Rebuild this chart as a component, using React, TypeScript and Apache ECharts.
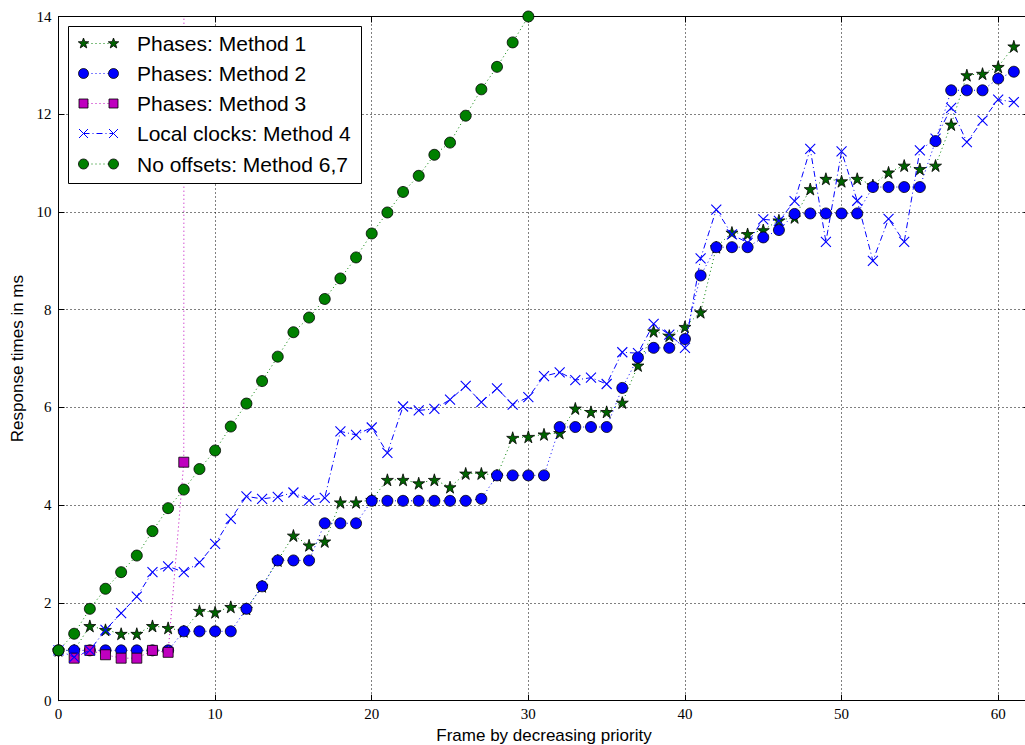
import React, { useEffect, useRef } from "react";
import * as echarts from "echarts";

const xTicks = [0, 10, 20, 30, 40, 50, 60];
const yTicks = [0, 2, 4, 6, 8, 10, 12, 14];

const method1 = [1.03, 1.03, 1.53, 1.45, 1.37, 1.37, 1.53, 1.49, 1.42, 1.84, 1.81, 1.92, 1.88, 2.34, 2.87, 3.38, 3.18, 3.26, 4.06, 4.06, 4.11, 4.52, 4.52, 4.45, 4.52, 4.37, 4.65, 4.65, 4.61, 5.38, 5.40, 5.45, 5.48, 5.98, 5.91, 5.91, 6.10, 6.86, 7.56, 7.47, 7.65, 7.95, 9.28, 9.58, 9.55, 9.63, 9.83, 9.89, 10.47, 10.68, 10.63, 10.68, 10.55, 10.81, 10.95, 10.88, 10.95, 11.79, 12.80, 12.83, 12.97, 13.39];

const method2 = [1.03, 1.03, 1.03, 1.03, 1.03, 1.03, 1.03, 1.03, 1.42, 1.42, 1.42, 1.42, 1.88, 2.34, 2.87, 2.87, 2.87, 3.63, 3.63, 3.63, 4.09, 4.09, 4.09, 4.09, 4.09, 4.09, 4.09, 4.13, 4.61, 4.61, 4.61, 4.61, 5.60, 5.60, 5.60, 5.60, 6.40, 7.02, 7.22, 7.22, 7.40, 8.70, 9.28, 9.28, 9.28, 9.48, 9.63, 9.96, 9.97, 9.97, 9.97, 9.97, 10.51, 10.51, 10.51, 10.51, 11.45, 12.49, 12.49, 12.49, 12.73, 12.87];

const method3X = [1, 2, 3, 4, 5, 6, 7, 8, 9];
const method3 = [0.87, 1.03, 0.94, 0.87, 0.87, 1.03, 0.99, 4.88, 1000];

const method4 = [1.03, 0.89, 1.03, 1.45, 1.79, 2.13, 2.63, 2.75, 2.63, 2.83, 3.21, 3.72, 4.18, 4.13, 4.17, 4.26, 4.10, 4.15, 5.51, 5.44, 5.59, 5.07, 6.02, 5.94, 5.97, 6.16, 6.44, 6.11, 6.39, 6.06, 6.21, 6.64, 6.72, 6.56, 6.61, 6.48, 7.13, 7.11, 7.71, 7.49, 7.22, 9.05, 10.05, 9.54, 9.37, 9.85, 9.82, 10.22, 11.29, 9.39, 11.24, 10.23, 9.00, 9.86, 9.39, 11.26, 11.5, 12.13, 11.43, 11.87, 12.30, 12.25];

const method67 = [1.03, 1.37, 1.88, 2.29, 2.63, 2.97, 3.47, 3.94, 4.32, 4.74, 5.12, 5.61, 6.08, 6.54, 7.04, 7.54, 7.84, 8.22, 8.64, 9.07, 9.56, 9.99, 10.41, 10.74, 11.17, 11.42, 11.97, 12.51, 12.97, 13.47, 14.0];

const seriesNames = [
  "Phases: Method 1",
  "Phases: Method 2",
  "Phases: Method 3",
  "Local clocks: Method 4",
  "No offsets: Method 6,7",
];

const STAR = "path://M50,0 L61,35 L98,35 L68,57 L79,91 L50,70 L21,91 L32,57 L2,35 L39,35 Z";
const XMARK = "path://M0,0 L10,10 M10,0 L0,10";

const GREEN = "#008000";
const DARKGREEN = "#006400";
const BLUE = "#0000ff";
const MAGENTA = "#bf00bf";

function pairs(values: number[], xs?: number[]) {
  return values.map((v, i) => [xs ? xs[i] : i, v]);
}

function starPoints(cx: number, cy: number, ro: number, ri: number) {
  const pts: number[][] = [];
  for (let k = 0; k < 10; k++) {
    const r = k % 2 === 0 ? ro : ri;
    const a = -Math.PI / 2 + (k * Math.PI) / 5;
    pts.push([cx + r * Math.cos(a), cy + r * Math.sin(a)]);
  }
  return pts;
}

function legendGraphic() {
  const boxX = 68.5, boxY = 26.5, boxW = 293, boxH = 157;
  const rowY = [43.5, 73.5, 103.5, 133.5, 164];
  const m1 = 83.5, m2 = 113.5, tx = 137;
  const els: any[] = [
    { type: "rect", shape: { x: boxX, y: boxY, width: boxW, height: boxH }, style: { fill: "#fff", stroke: "#000", lineWidth: 1 }, z: 100 },
  ];
  const lineStyles: any[] = [
    { stroke: GREEN, lineDash: [1, 3] },
    { stroke: BLUE, lineDash: [1, 3] },
    { stroke: MAGENTA, lineDash: [1, 3] },
    { stroke: BLUE, lineDash: [6, 3, 1, 3] },
    { stroke: GREEN, lineDash: [1, 3] },
  ];
  rowY.forEach((y, k) => {
    els.push({ type: "line", shape: { x1: m1, y1: y, x2: m2, y2: y }, style: { ...lineStyles[k], lineWidth: 1 }, z: 101 });
    [m1, m2].forEach((mx) => {
      if (k === 0) {
        els.push({ type: "polygon", shape: { points: starPoints(mx, y, 5.5, 2.3) }, style: { fill: DARKGREEN, stroke: "#000", lineWidth: 0.8 }, z: 102 });
      } else if (k === 1) {
        els.push({ type: "circle", shape: { cx: mx, cy: y, r: 5 }, style: { fill: BLUE, stroke: "#000", lineWidth: 0.8 }, z: 102 });
      } else if (k === 2) {
        els.push({ type: "rect", shape: { x: mx - 4.5, y: y - 4.5, width: 9, height: 9 }, style: { fill: MAGENTA, stroke: "#000", lineWidth: 0.8 }, z: 102 });
      } else if (k === 3) {
        els.push({ type: "line", shape: { x1: mx - 4.5, y1: y - 4.5, x2: mx + 4.5, y2: y + 4.5 }, style: { stroke: BLUE, lineWidth: 1 }, z: 102 });
        els.push({ type: "line", shape: { x1: mx - 4.5, y1: y + 4.5, x2: mx + 4.5, y2: y - 4.5 }, style: { stroke: BLUE, lineWidth: 1 }, z: 102 });
      } else {
        els.push({ type: "circle", shape: { cx: mx, cy: y, r: 5 }, style: { fill: GREEN, stroke: "#000", lineWidth: 0.8 }, z: 102 });
      }
    });
    els.push({
      type: "text",
      x: tx,
      y: y,
      style: { text: seriesNames[k], fill: "#000", font: "21px 'Liberation Sans', Arial, sans-serif", verticalAlign: "middle", align: "left" },
      z: 102,
    });
  });
  return els;
}

export default function App() {
  const ref = useRef<HTMLDivElement>(null);
  useEffect(() => {
    if (!ref.current) return;
    const chart = echarts.init(ref.current, undefined, { renderer: "svg" });
    const tickFont = { fontFamily: "'Liberation Serif', 'DejaVu Serif', serif", fontSize: 15, color: "#000" };
    const splitLine = { show: true, lineStyle: { color: "#000", type: [1, 3] as any, width: 1 } };
    const axisLine = { show: true, onZero: false, lineStyle: { color: "#000", width: 1 } };
    const axisTick = { show: true, inside: true, length: 6, lineStyle: { color: "#000", width: 1 } };
    const option: any = {
      animation: false,
      backgroundColor: "#fff",
      grid: { left: 58.5, top: 16.5, width: 971, bottom: 44.3, containLabel: false, outerBoundsMode: "none" },
      xAxis: [
        {
          type: "value",
          min: 0,
          max: 62,
          interval: 10,
          axisLine,
          axisTick,
          splitLine,
          axisLabel: { ...tickFont, margin: 6, formatter: (v: number) => (xTicks.includes(v) ? String(v) : "") },
          name: "Frame by decreasing priority",
          nameLocation: "middle",
          nameGap: 25,
          nameTextStyle: { fontFamily: "'Liberation Sans', Arial, sans-serif", fontSize: 17, color: "#000", verticalAlign: "top" },
        },
        {
          type: "value",
          position: "top",
          min: 0,
          max: 62,
          interval: 10,
          axisLine,
          axisTick,
          splitLine: { show: false },
          axisLabel: { show: false },
        },
      ],
      yAxis: [
        {
          type: "value",
          min: 0,
          max: 14,
          interval: 2,
          axisLine,
          axisTick,
          splitLine,
          axisLabel: { ...tickFont, margin: 7, formatter: (v: number) => (yTicks.includes(v) ? String(v) : "") },
          name: "Response times in ms",
          nameLocation: "middle",
          nameGap: 31,
          nameTextStyle: { fontFamily: "'Liberation Sans', Arial, sans-serif", fontSize: 17, color: "#000" },
        },
        {
          type: "value",
          position: "right",
          min: 0,
          max: 14,
          interval: 2,
          axisLine,
          axisTick,
          splitLine: { show: false },
          axisLabel: { show: false },
        },
      ],
      series: [
        {
          name: seriesNames[0],
          type: "line",
          data: pairs(method1),
          symbol: STAR,
          symbolSize: 12,
          lineStyle: { color: GREEN, width: 1, type: [1, 3] },
          itemStyle: { color: DARKGREEN, borderColor: "#000", borderWidth: 0.8 },
          z: 2,
        },
        {
          name: seriesNames[1],
          type: "line",
          data: pairs(method2),
          symbol: "circle",
          symbolSize: 11,
          lineStyle: { color: BLUE, width: 1, type: [1, 3] },
          itemStyle: { color: BLUE, borderColor: "#000", borderWidth: 0.8 },
          z: 3,
        },
        {
          name: seriesNames[2],
          type: "line",
          data: pairs(method3, method3X),
          symbol: "rect",
          symbolSize: 10,
          lineStyle: { color: MAGENTA, width: 1, type: [1, 3] },
          itemStyle: { color: MAGENTA, borderColor: "#000", borderWidth: 0.8 },
          z: 4,
        },
        {
          name: seriesNames[3],
          type: "line",
          data: pairs(method4),
          symbol: XMARK,
          symbolSize: 10,
          lineStyle: { color: BLUE, width: 1, type: [6, 3, 1, 3] },
          itemStyle: { color: "none", borderColor: BLUE, borderWidth: 1.1 },
          z: 5,
        },
        {
          name: seriesNames[4],
          type: "line",
          data: pairs(method67),
          symbol: "circle",
          symbolSize: 11,
          lineStyle: { color: GREEN, width: 1, type: [1, 3] },
          itemStyle: { color: GREEN, borderColor: "#000", borderWidth: 0.8 },
          z: 6,
        },
      ],
      graphic: legendGraphic(),
    };
    chart.setOption(option);
    return () => chart.dispose();
  }, []);
  return <div ref={ref} style={{ position: "fixed", left: 0, top: 0, width: 1025, height: 745 }} />;
}
